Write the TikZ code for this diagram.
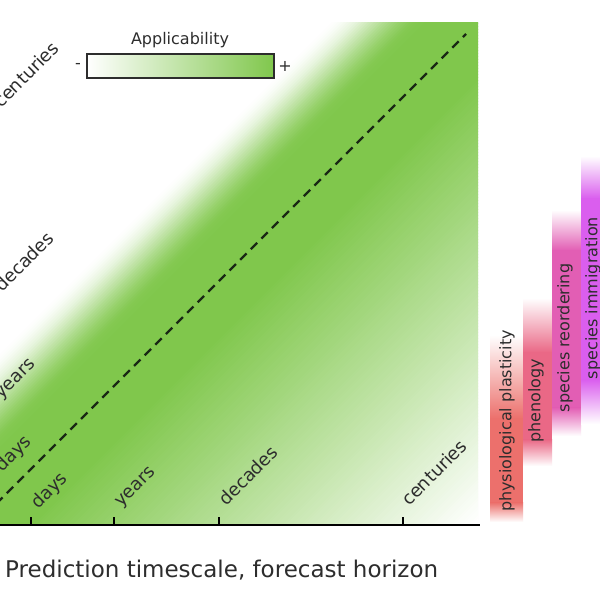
\documentclass[tikz,border=0pt]{standalone}
\usepackage{fontspec}
\setmainfont{DejaVu Sans}
\definecolor{appgreen}{RGB}{128,199,76}
\definecolor{txt}{RGB}{45,45,45}
\definecolor{dashc}{RGB}{25,40,20}
\definecolor{cphys}{RGB}{236,112,108}
\definecolor{cphen}{RGB}{234,104,134}
\definecolor{creord}{RGB}{226,94,180}
\definecolor{cimmi}{RGB}{218,94,238}
\tikzset{
  ticklab/.style={rotate=45, anchor=base west, inner sep=0pt, text=txt, font=\fontsize{18}{22}\selectfont},
  bartext/.style={rotate=90, inner sep=0pt, text=txt, font=\fontsize{16}{19}\selectfont},
  legtext/.style={inner sep=0pt, text=txt, font=\fontsize{16}{19}\selectfont},
  axisline/.style={line width=2.5pt, black},
  tickline/.style={line width=2pt, black},
  dashline/.style={line width=2.4pt, dashc, dash pattern=on 9pt off 6pt},
}
\begin{document}
\begin{tikzpicture}[x=1pt,y=-1pt]
\useasboundingbox (0,0) rectangle (600,600);
\fill[white] (0,0) rectangle (600,600);
% green applicability field
\begin{scope}
\clip (-30,22) rectangle (478,525);
\foreach \s in {330,333,...,1002}{
  \pgfmathsetmacro\tfrac{min(max((\s-348)/97,0),1)}
  \pgfmathsetmacro\pu{100*\tfrac*\tfrac*(3-2*\tfrac)}
  \pgfmathsetmacro\pd{min(100,max(0,(1000-\s)/4.45))}
  \pgfmathtruncatemacro\p{min(\pu,\pd)}
  \fill[appgreen!\p!white] (\s+1000,-1000) -- (-1000,\s+1000) -- (-1000,\s+1004) -- (\s+1004,-1000) -- cycle;
}
\end{scope}
% diagonal
\coordinate (d0) at (-25,525);
\coordinate (d1) at (466,34);
\draw[dashline] (d0) -- (d1);
% x axis
\coordinate (ax0) at (-25,525);
\coordinate (ax1) at (480,525);
\draw[axisline] (ax0) -- (ax1);
\foreach \x/\n in {31/tdays,114/tyears,219/tdecades,403/tcent}{
  \coordinate (\n a) at (\x,525);
  \coordinate (\n b) at (\x,517);
  \draw[tickline] (\n a) -- (\n b);
}
\node[ticklab] (xdays) at (38,510) {days};
\node[ticklab] (xyears) at (121,508) {years};
\node[ticklab] (xdecades) at (226,507) {decades};
\node[ticklab] (xcent) at (409,507) {centuries};
% y axis labels (clipped at left)
\node[ticklab] (ydays) at (2,473) {days};
\node[ticklab] (yyears) at (1,400) {years};
\node[ticklab] (ydecades) at (2,293) {decades};
\node[ticklab] (ycent) at (1,109) {centuries};
% legend
\shade[left color=white, right color=appgreen, draw=txt, line width=1.5pt] (87,54) rectangle (274,78);
\node[legtext] (legt) at (180,40) {Applicability};
\node[legtext] (legm) at (78,66) {-};
\node[legtext] (legp) at (285,66) {+};
% axis title
\node[anchor=base west, inner sep=0pt, text=txt, font=\fontsize{23}{28}\selectfont] (xtitle) at (5,577) {Prediction timescale, forecast horizon};
% process bars
\foreach \xa/\xb/\ya/\yb/\yc/\yd/\c in {490/523/335/418/503/522/cphys, 523/552/298/352/440/466/cphen, 552/581/210/250/408/436/creord, 581/612/156/198/380/424/cimmi}{
  \shade[top color=white, bottom color=\c] (\xa,\ya) rectangle (\xb,\yb+0.5);
  \fill[\c] (\xa,\yb) rectangle (\xb,\yc);
  \shade[top color=\c, bottom color=white] (\xa,\yc-0.5) rectangle (\xb,\yd);
}
\node[bartext] (bphys) at (507,421) {physiological plasticity};
\node[bartext] (bphen) at (536,401) {phenology};
\node[bartext] (breord) at (565,338) {species reordering};
\node[bartext] (bimmi) at (593,298) {species immigration};
\end{tikzpicture}
\end{document}
